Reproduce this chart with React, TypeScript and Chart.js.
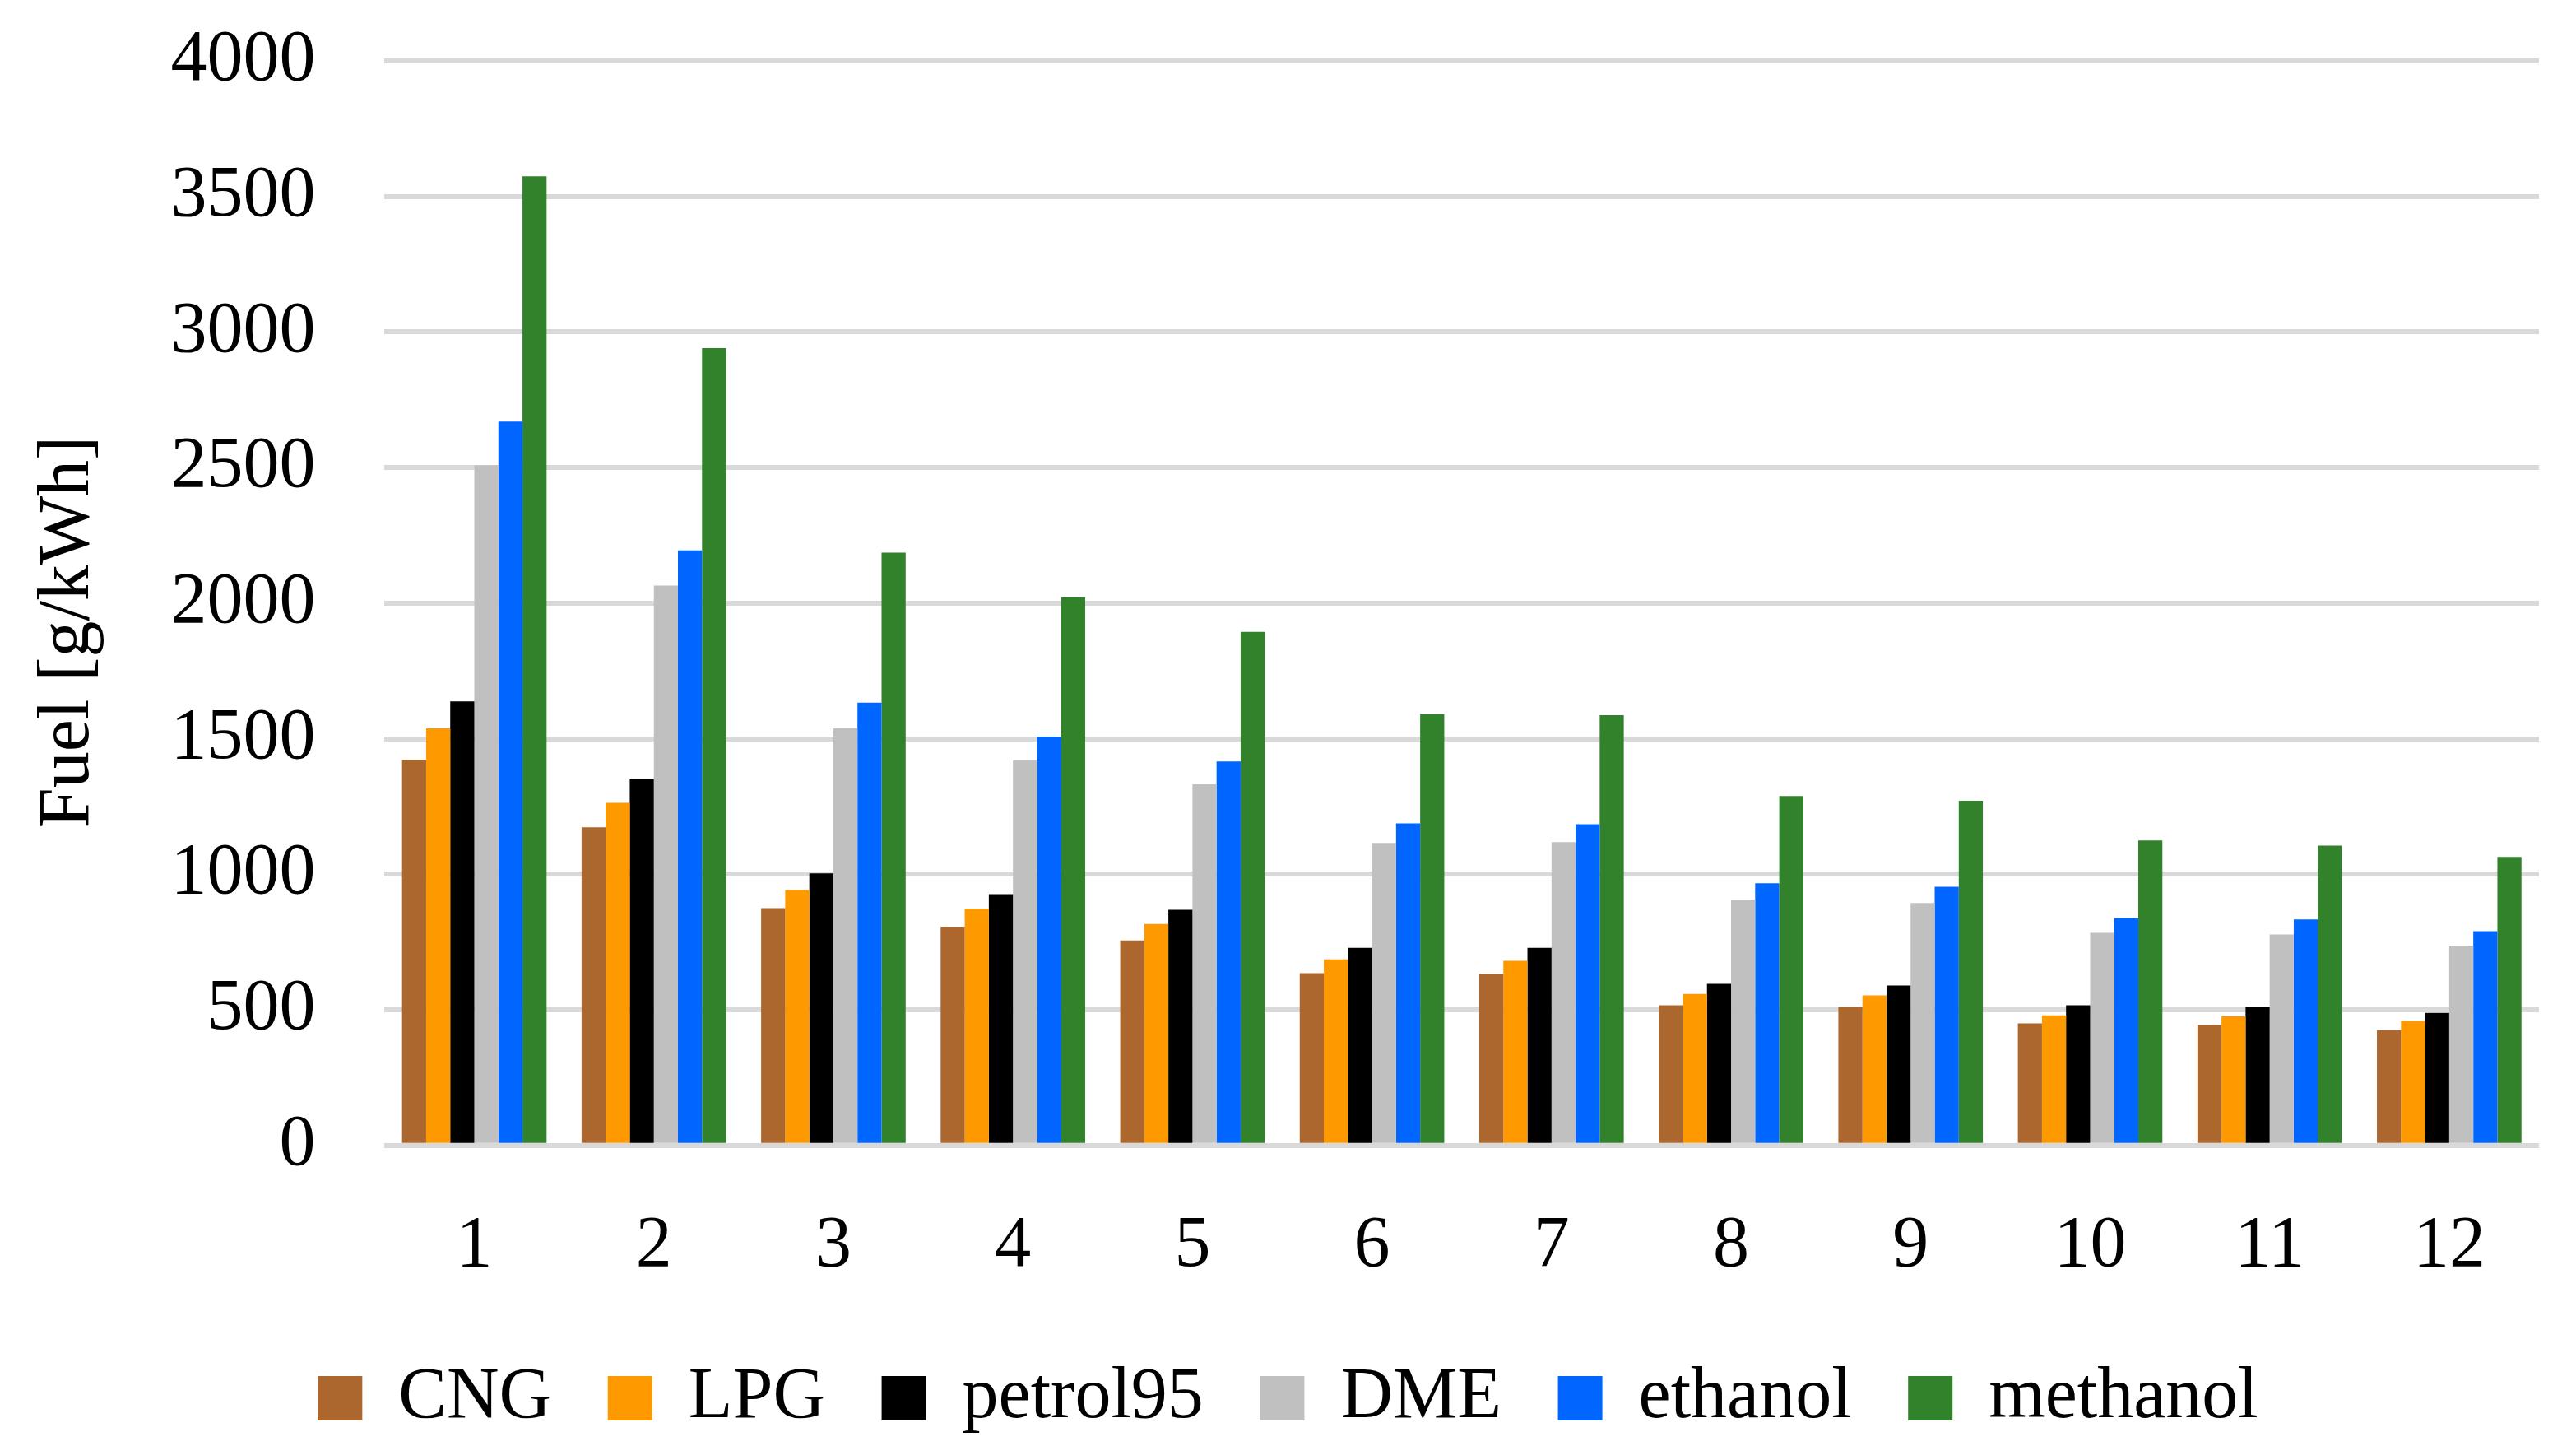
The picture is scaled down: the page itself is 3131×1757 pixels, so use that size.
import React, { useEffect, useRef } from "react";
import { Chart, registerables } from "chart.js";

Chart.register(...registerables);

const categories = ["1", "2", "3", "4", "5", "6", "7", "8", "9", "10", "11", "12"];
const cng = [1422, 1173, 875, 807, 756, 635, 632, 517, 511, 450, 444, 425];
const lpg = [1538, 1264, 942, 873, 817, 686, 681, 559, 553, 480, 476, 459];
const petrol95 = [1638, 1350, 1003, 927, 869, 729, 729, 596, 590, 517, 511, 489];
const dme = [2509, 2065, 1538, 1420, 1332, 1116, 1119, 906, 894, 784, 778, 736];
const ethanol = [2670, 2195, 1633, 1508, 1416, 1188, 1185, 967, 954, 839, 833, 790];
const methanol = [3574, 2941, 2186, 2022, 1894, 1590, 1587, 1289, 1271, 1125, 1106, 1064];
const seriesNames = ["CNG", "LPG", "petrol95", "DME", "ethanol", "methanol"];
const seriesColors = ["#AB672E", "#FF9900", "#000000", "#C0C0C0", "#0066FF", "#31822A"];
const yTicks = { min: 0, max: 4000, step: 500 };
const yTitle = "Fuel [g/kWh]";

const FONT = "'Liberation Serif', 'Times New Roman', serif";

// nudges only the y-axis title a little lower, as in the reference
const titleShift = {
  id: "titleShift",
  afterLayout(chart: any) {
    const s = chart.scales.y;
    if (s) {
      s.top += 35;
      s.bottom += 35;
    }
  },
};

export default function App() {
  const ref = useRef<HTMLCanvasElement | null>(null);

  useEffect(() => {
    document.body.style.margin = "0";
    const canvas = ref.current;
    if (!canvas) return;
    const values = [cng, lpg, petrol95, dme, ethanol, methanol];
    const chart = new Chart(canvas, {
      type: "bar",
      data: {
        labels: categories,
        datasets: values.map((v, i) => ({
          label: seriesNames[i],
          data: v,
          backgroundColor: seriesColors[i],
          borderWidth: 0,
          categoryPercentage: 0.805,
          barPercentage: 1.0,
        })),
      },
      plugins: [titleShift],
      options: {
        responsive: false,
        animation: false,
        devicePixelRatio: 1,
        layout: { padding: { top: 74, left: 45, right: 45, bottom: 4 } },
        plugins: {
          legend: {
            position: "bottom",
            labels: {
              boxWidth: 54,
              boxHeight: 54,
              padding: 68.6,
              color: "#000",
              font: { family: FONT, size: 88 },
            },
          },
          tooltip: { enabled: false },
        },
        scales: {
          x: {
            grid: { display: false },
            border: { display: false },
            ticks: {
              color: "#000",
              padding: 62,
              font: { family: FONT, size: 88 },
            },
            afterFit: (scale: any) => {
              scale.height -= 43;
            },
          },
          y: {
            min: yTicks.min,
            max: yTicks.max,
            grid: {
              color: "#D9D9D9",
              lineWidth: 6,
              drawTicks: true,
              tickLength: 80,
              tickColor: "rgba(0,0,0,0)",
            },
            border: { display: false },
            ticks: {
              stepSize: yTicks.step,
              color: "#000",
              padding: 4,
              font: { family: FONT, size: 88 },
              callback: (v: any) => String(v),
            },
            title: {
              display: true,
              text: yTitle,
              color: "#000",
              font: { family: FONT, size: 88, lineHeight: 0.8 },
              padding: { top: 4, bottom: 84 },
            },
          },
        },
      },
    });
    return () => chart.destroy();
  }, []);

  return (
    <div style={{ position: "absolute", left: 0, top: 0, width: 3131, height: 1757, background: "#fff" }}>
      <canvas ref={ref} width={3131} height={1757} style={{ width: 3131, height: 1757, display: "block" }} />
    </div>
  );
}
